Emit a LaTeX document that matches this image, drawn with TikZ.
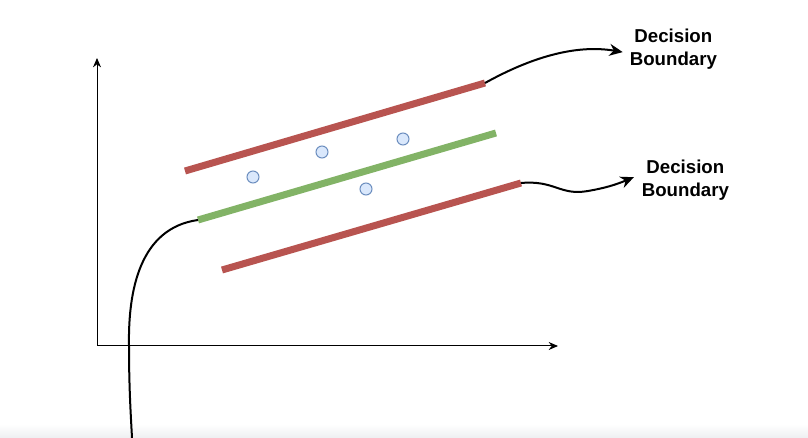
\documentclass[tikz,border=0pt]{standalone}
\usepackage{fontspec}
\newfontfamily\lblfont{Liberation Sans}
\usetikzlibrary{arrows.meta}

\definecolor{barred}{RGB}{184,84,80}
\definecolor{bargreen}{RGB}{130,179,102}
\definecolor{dotfill}{RGB}{218,232,252}
\definecolor{dotline}{RGB}{108,142,191}
\definecolor{stripgray}{RGB}{238,239,241}

\tikzset{every picture/.style={line width=0.75pt}}
\tikzset{
  axisline/.style={line width=0.75pt, -{Stealth[length=7pt,width=6pt]}},
  bar/.style={line width=5.25pt},
  pointer/.style={line width=1.5pt, -{Stealth[length=10pt,width=9pt]}},
  datadot/.style={circle, draw=dotline, fill=dotfill, line width=0.75pt, minimum size=9pt, inner sep=0pt},
  boundlabel/.style={anchor=west, inner sep=1pt, align=center, font=\lblfont\bfseries\fontsize{14}{17}\selectfont}
}

\begin{document}
\begin{tikzpicture}[x=0.75pt,y=0.75pt,yscale=-1,xscale=1]
\useasboundingbox (0,0) rectangle (808,438);

%Shape: Bottom strip
\shade [top color=white, bottom color=stripgray] (0,424) rectangle (808,438);

%Axes
\coordinate (origin) at (97,346);
\coordinate (ytip) at (97,58);
\coordinate (xtip) at (558,346);
\draw [axisline] (origin) -- (ytip);
\draw [axisline] (origin) -- (xtip);

%Straight Lines (boundaries)
\coordinate (upstart) at (185,171);
\coordinate (upend) at (485,83);
\coordinate (midstart) at (198,220);
\coordinate (midend) at (496,133);
\coordinate (lowstart) at (222,270);
\coordinate (lowend) at (521,183);
\draw [bar, barred] (upstart) -- (upend);
\draw [bar, bargreen] (midstart) -- (midend);
\draw [bar, barred] (lowstart) -- (lowend);

%Shape: Circles
\node [datadot] (dota) at (253,177) {};
\node [datadot] (dotb) at (322,152) {};
\node [datadot] (dotc) at (403,139) {};
\node [datadot] (dotd) at (366,189) {};

% Text Node
\node [boundlabel] (lbltop) at (628,49) {Decision\\Boundary};
% Text Node
\node [boundlabel] (lblbot) at (640,180) {Decision\\Boundary};

%Curves
\draw [pointer, shorten >=4pt] (upend) .. controls (530,58) and (575,44) .. ([yshift=3pt]lbltop.west);
\draw [line width=1.5pt] (lowend) .. controls (555,180) and (560,196) .. (588,191);
\coordinate (lowbend) at (588,191);
\draw [pointer, shorten >=5pt] (lowbend) .. controls (605,188) and (615,185) .. ([yshift=-4pt]lblbot.west);

\coordinate (curvefoot) at (132,438);
\draw [line width=1.5pt] (midstart) .. controls (140,228) and (128,290) .. (129,346) .. controls (129,390) and (131,418) .. (curvefoot);

\end{tikzpicture}
\end{document}
